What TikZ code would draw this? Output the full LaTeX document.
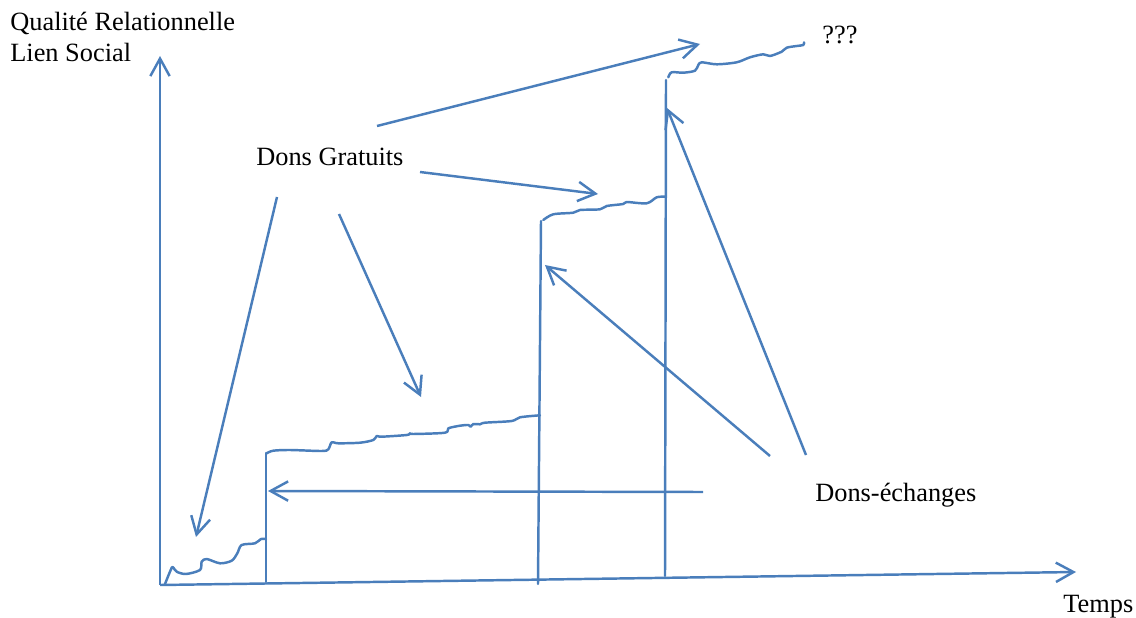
\documentclass[tikz,border=0pt]{standalone}
\usepackage{fontspec}
\setmainfont{Liberation Serif}
\usetikzlibrary{
  arrows.meta,
  positioning,
}
\definecolor{officeblue}{RGB}{74, 126, 187}
\tikzstyle{arrow} = [
  -{Straight Barb[length=10pt,width=11pt]},
  line width=1.4pt,
  officeblue,
]
\tikzstyle{stroke} = [
  line width=1.4pt,
  officeblue,
  line join=round,
  line cap=round,
]
\tikzstyle{txt} = [
  font=\fontsize{15}{18}\selectfont,
  inner sep=0pt,
  anchor=base west,
]

\begin{document}
\begin{tikzpicture}[x=0.02cm,y=-0.02cm]
        \useasboundingbox (0,0) rectangle (1136,618);

        % texts
        \node[txt]    (qual)      at (10,31)    {Qualité Relationnelle};
        \node[txt]    (lien)      at (10,62)    {Lien Social};
        \node[txt]    (gratuits)  at (256,166)  {Dons Gratuits};
        \node[txt]    (echanges)  at (815,501)  {Dons-échanges};
        \node[txt]    (qqq)       at (822,44)   {???};
        \node[txt]    (temps)     at (1063,612) {Temps};

        % axes
        \coordinate (o)    at (160,585);
        \coordinate (ytop) at (160,56);
        \coordinate (xend) at (1076,572);
        \draw[arrow] (o) -- (ytop);
        \draw[arrow] (o) -- (xend);

        % steps
        \coordinate (s1b) at (266,582);
        \coordinate (s1t) at (266,453);
        \coordinate (s2b) at (538,584);
        \coordinate (s2t) at (541,221);
        \coordinate (s3b) at (665,576);
        \coordinate (s3t) at (666,80);
        \draw[stroke] (s1b) -- (s1t);
        \draw[stroke] (s2b) -- (s2t);
        \draw[stroke] (s3b) -- (s3t);

        \draw[stroke] plot[smooth,tension=0.5] coordinates {(165,584) (170.7,570) (172.7,567) (176.7,571.7) (186,574) (200,570) (201.7,561.7) (206.7,559) (220,563.3) (231.7,560.7) (237.3,553.3) (241.7,545) (255,543.3) (261,539) (266,539)};
        \draw[stroke] plot[smooth,tension=0.5] coordinates {(266.7,453.3) (273.3,450.7) (290,450) (321.7,451) (328.3,449.3) (331.7,442.3) (338.3,443.3) (360,442.7) (373.3,440) (376.7,436) (381.7,436.7) (406.7,435) (410,433.3) (413.3,434) (445,432.7) (448.3,428.3) (460,425.7) (468.3,425) (470.7,426.7) (473.3,424) (480,424.3) (485,422.7) (511.7,421) (520,417.3) (540,415.3)};
        \draw[stroke] plot[smooth,tension=0.5] coordinates {(543.3,220) (553.3,214.3) (573.3,212.7) (580,210) (600,209.3) (606.7,206) (623.3,204) (626.7,202) (646.7,203.3) (656.7,197.3) (665,196.7)};
        \draw[stroke] plot[smooth,tension=0.5] coordinates {(668.3,77.3) (671.7,72.3) (683.3,72.7) (695,70.7) (698.3,65) (701.7,62.3) (716.7,64.3) (736.7,62.3) (750,57.3) (763.3,54.3) (770,56) (781.7,51.7) (786.7,47.7) (796.7,46) (803.3,45) (804,42.3)};

        % arrows
        \coordinate (g1) at (377,126);
        \coordinate (g1t) at (700,44);
        \coordinate (g2) at (420,172);
        \coordinate (g2t) at (598,194);
        \coordinate (g3) at (277,197);
        \coordinate (g3t) at (196,537);
        \coordinate (g4) at (339,214);
        \coordinate (g4t) at (421,397);
        \coordinate (e1) at (770,456);
        \coordinate (e1t) at (545,265);
        \coordinate (e2) at (806,455);
        \coordinate (e2t) at (667,108);
        \coordinate (e3) at (703,492);
        \coordinate (e3t) at (268,491);
        \draw[arrow] (g1) -- (g1t);
        \draw[arrow] (g2) -- (g2t);
        \draw[arrow] (g3) -- (g3t);
        \draw[arrow] (g4) -- (g4t);
        \draw[arrow] (e1) -- (e1t);
        \draw[arrow] (e2) -- (e2t);
        \draw[arrow] (e3) -- (e3t);
\end{tikzpicture}
\end{document}
